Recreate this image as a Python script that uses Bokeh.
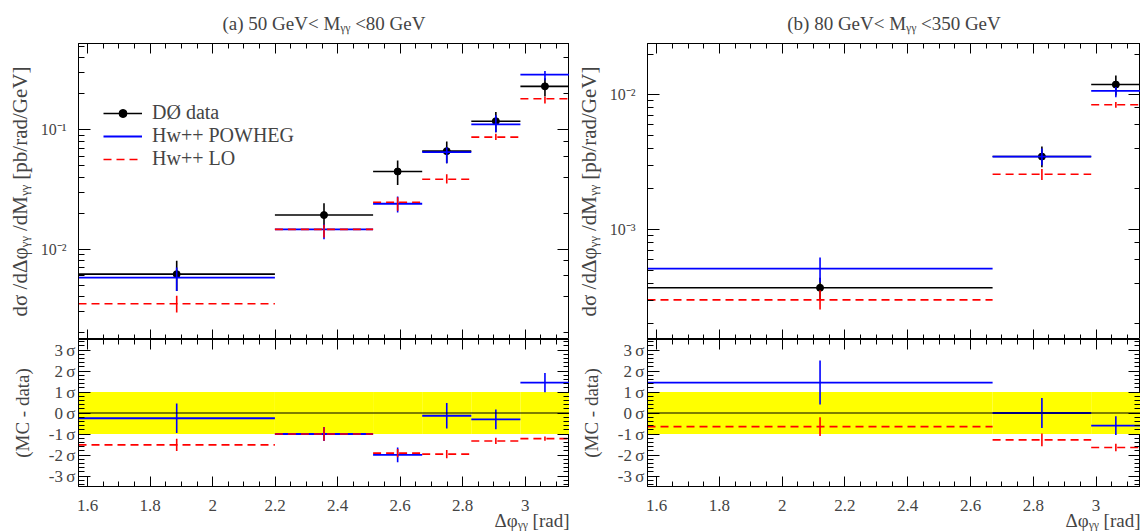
import numpy as np
from bokeh.plotting import figure
from bokeh.models import (Range1d, LinearAxis, LogAxis, SingleIntervalTicker, LogTicker, Title,
                          CustomJSTickFormatter, Legend, LegendItem, Span, ColumnDataSource)
from bokeh.layouts import gridplot
from bokeh.embed import file_html
from bokeh.resources import INLINE

PI = np.pi
FONT = "Liberation Serif"

# ---------------- data : panel (a) 50 < M < 80 GeV ----------------
title_a = "(a) 50 GeV< Mᵧᵧ <80 GeV"
edges_a = [0.5, 0.7, 0.8, 0.85, 0.9, 0.95, 1.0]          # bin edges in units of pi
data_a = [0.00617, 0.0193, 0.0447, 0.0662, 0.118, 0.231]
data_a_lo = [0.00447, 0.0152, 0.0345, 0.0525, 0.0955, 0.190]
data_a_hi = [0.00798, 0.0242, 0.0552, 0.0798, 0.141, 0.270]
pow_a = [0.00578, 0.01463, 0.0240, 0.0649, 0.111, 0.290]
pow_a_lo = [0.00447, 0.0121, 0.0203, 0.0525, 0.0955, 0.260]
pow_a_hi = [0.00701, 0.0162, 0.0276, 0.0715, 0.132, 0.311]
lo_a = [0.00349, 0.01463, 0.0247, 0.0385, 0.0868, 0.182]
lo_a_lo = [0.00294, 0.0125, 0.0210, 0.0354, 0.0819, 0.166]
lo_a_hi = [0.00406, 0.0160, 0.0272, 0.0424, 0.0925, 0.189]
dev_pow_a = [-0.25, -1.0, -1.99, -0.13, -0.30, 1.45]
dev_pow_a_err = [0.70, 0.33, 0.35, 0.61, 0.47, 0.46]
dev_lo_a = [-1.52, -1.0, -1.91, -1.96, -1.33, -1.22]
dev_lo_a_err = [0.29, 0.32, 0.20, 0.20, 0.15, 0.10]

# ---------------- data : panel (b) 80 < M < 350 GeV ----------------
title_b = "(b) 80 GeV< Mᵧᵧ <350 GeV"
edges_b = [0.5, 0.85, 0.95, 1.0]
data_b = [0.000370, 0.00348, 0.0119]
data_b_lo = [0.000300, 0.00290, 0.00989]
data_b_hi = [0.000440, 0.00413, 0.0139]
pow_b = [0.000513, 0.00348, 0.0107]
pow_b_lo = [0.000405, 0.00300, 0.0096]
pow_b_hi = [0.000621, 0.00400, 0.0114]
lo_b = [0.000301, 0.00257, 0.00843]
lo_b_lo = [0.000255, 0.00233, 0.00800]
lo_b_hi = [0.000355, 0.00281, 0.00882]
dev_pow_b = [1.45, 0.0, -0.6]
dev_pow_b_err = [1.05, 0.72, 0.45]
dev_lo_b = [-0.65, -1.28, -1.64]
dev_lo_b_err = [0.45, 0.30, 0.18]

ylabel_main = "dσ /dΔφᵧᵧ /dMᵧᵧ [pb/rad/GeV]"
ylabel_ratio = "(MC - data)"
xlabel = "Δφᵧᵧ [rad]"
legend_labels = ["DØ data", "Hw++ POWHEG", "Hw++ LO"]

BLUE = "#0000ff"
RED = "#ff0000"

LOG_FMT = CustomJSTickFormatter(code="""
const e = Math.round(Math.log10(tick));
const m = {"-":"⁻","0":"⁰","1":"¹","2":"²","3":"³","4":"⁴","5":"⁵","6":"⁶","7":"⁷","8":"⁸","9":"⁹"};
return "10" + String(e).split("").map(c => m[c]).join("");
""")
X_FMT = CustomJSTickFormatter(code="return (Math.round(tick*10)/10).toString();")
SIG_FMT = CustomJSTickFormatter(code="return Math.round(tick).toString() + '\u2009σ';")


def style_axis(ax, major_in, minor_in, labels=True, size="16px", standoff=6):
    ax.major_tick_in = major_in
    ax.major_tick_out = 0
    ax.minor_tick_in = minor_in
    ax.minor_tick_out = 0
    ax.axis_line_color = "black"
    ax.major_tick_line_color = "black"
    ax.minor_tick_line_color = "black"
    ax.major_label_text_font = FONT
    ax.axis_label_text_font = FONT
    ax.axis_label_text_font_style = "normal"
    if labels:
        ax.major_label_text_font_size = size
        ax.major_label_standoff = standoff
    else:
        ax.major_label_text_font_size = "1px"
        ax.major_label_text_color = None
        ax.major_label_standoff = 0


def xticker():
    return SingleIntervalTicker(interval=0.2, num_minor_ticks=4)


def cols(edges):
    e = np.array(edges) * PI
    lo, hi = e[:-1], e[1:]
    return dict(l=lo, r=hi, c=(lo + hi) / 2)


def make_main(edges, dat, dlo, dhi, pw, plo, phi, lo, llo, lhi, yr, title, width, mleft, mright, legend):
    p = figure(width=width, height=339, x_range=Range1d(PI / 2, PI), y_range=Range1d(*yr),
               y_axis_type="log", output_backend="svg", toolbar_location=None,
               min_border_left=mleft, min_border_right=mright, min_border_top=43, min_border_bottom=0,
               background_fill_color="white", border_fill_color="white", outline_line_color="black")
    p.grid.visible = False
    p.title.text = title
    p.title.align = "center"
    p.title.text_font = FONT
    p.title.text_font_size = "19px"
    p.title.text_font_style = "normal"
    p.title.standoff = 19

    src = ColumnDataSource(dict(**cols(edges), d=dat, dlo=dlo, dhi=dhi, p=pw, plo=plo, phi=phi,
                                o=lo, olo=llo, ohi=lhi))
    # data
    r_dh = p.segment("l", "d", "r", "d", source=src, line_color="black", line_width=1.6)
    p.segment("c", "dlo", "c", "dhi", source=src, line_color="black", line_width=1.6)
    r_dd = p.scatter("c", "d", source=src, size=7, color="black")
    # POWHEG
    r_ph = p.segment("l", "p", "r", "p", source=src, line_color=BLUE, line_width=1.8)
    p.segment("c", "plo", "c", "phi", source=src, line_color=BLUE, line_width=1.6)
    # LO
    r_oh = p.segment("l", "o", "r", "o", source=src, line_color=RED, line_width=1.6, line_dash="8 5")
    p.segment("c", "olo", "c", "ohi", source=src, line_color=RED, line_width=1.6)

    style_axis(p.yaxis[0], 12, 6, labels=True, size="16px", standoff=12)
    p.yaxis[0].formatter = LOG_FMT
    p.yaxis[0].axis_label = ylabel_main
    p.yaxis[0].axis_label_text_font_size = "21px"
    p.yaxis[0].axis_label_standoff = 6
    style_axis(p.xaxis[0], 10, 5, labels=False)
    p.xaxis[0].ticker = xticker()

    ra = LogAxis(ticker=LogTicker())
    style_axis(ra, 12, 6, labels=False)
    p.add_layout(ra, "right")
    ta = LinearAxis(ticker=xticker())
    style_axis(ta, 10, 5, labels=False)
    p.add_layout(ta, "above")

    if legend:
        lg = Legend(items=[LegendItem(label=legend_labels[0], renderers=[r_dh, r_dd]),
                           LegendItem(label=legend_labels[1], renderers=[r_ph]),
                           LegendItem(label=legend_labels[2], renderers=[r_oh])],
                    location=(25, 169), padding=0, margin=0, spacing=0,
                    border_line_color=None, background_fill_alpha=0,
                    label_text_font=FONT, label_text_font_size="20px",
                    glyph_width=39, glyph_height=20, label_height=20, label_standoff=10)
        p.add_layout(lg)
    return p


def make_ratio(edges, dpw, dpwe, dlo, dloe, width, mleft, mright):
    p = figure(width=width, height=192, x_range=Range1d(PI / 2, PI), y_range=Range1d(-3.5, 3.5),
               output_backend="svg", toolbar_location=None,
               min_border_left=mleft, min_border_right=mright, min_border_top=0, min_border_bottom=45,
               background_fill_color="white", border_fill_color="white", outline_line_color="black")
    p.grid.visible = False
    c = cols(edges)
    dpw = np.array(dpw); dpwe = np.array(dpwe); dlo = np.array(dlo); dloe = np.array(dloe)
    src = ColumnDataSource(dict(**c, p=dpw, plo=dpw - dpwe, phi=dpw + dpwe,
                                o=dlo, olo=dlo - dloe, ohi=dlo + dloe))
    p.quad(left="l", right="r", bottom=-1, top=1, source=src, fill_color="#ffff00", line_color=None)
    p.add_layout(Span(location=0, dimension="width", line_color="black", line_width=1.2))
    p.segment("l", "p", "r", "p", source=src, line_color=BLUE, line_width=1.8)
    p.segment("c", "plo", "c", "phi", source=src, line_color=BLUE, line_width=1.6)
    p.segment("l", "o", "r", "o", source=src, line_color=RED, line_width=1.6, line_dash="8 5")
    p.segment("c", "olo", "c", "ohi", source=src, line_color=RED, line_width=1.6)

    style_axis(p.yaxis[0], 12, 6, labels=True, size="17px", standoff=3)
    p.yaxis[0].ticker = SingleIntervalTicker(interval=1, num_minor_ticks=5)
    p.yaxis[0].formatter = SIG_FMT
    p.yaxis[0].axis_label = ylabel_ratio
    p.yaxis[0].axis_label_text_font_size = "19px"
    p.yaxis[0].axis_label_standoff = 13
    style_axis(p.xaxis[0], 10, 5, labels=True, size="17px", standoff=13)
    p.xaxis[0].ticker = xticker()
    p.xaxis[0].formatter = X_FMT

    ra = LinearAxis(ticker=SingleIntervalTicker(interval=1, num_minor_ticks=5))
    style_axis(ra, 12, 6, labels=False)
    p.add_layout(ra, "right")
    ta = LinearAxis(ticker=xticker())
    style_axis(ta, 10, 5, labels=False)
    p.add_layout(ta, "above")

    xt = Title(text=xlabel, align="right", text_font=FONT, text_font_size="19px",
               text_font_style="normal", standoff=-12)
    p.add_layout(xt, "below")
    return p


m_a = make_main(edges_a, data_a, data_a_lo, data_a_hi, pow_a, pow_a_lo, pow_a_hi,
                lo_a, lo_a_lo, lo_a_hi, (0.00175, 0.528), title_a, 569, 78, 0, True)
m_b = make_main(edges_b, data_b, data_b_lo, data_b_hi, pow_b, pow_b_lo, pow_b_hi,
                lo_b, lo_b_lo, lo_b_hi, (0.000153, 0.024), title_b, 571, 78, 0, False)
r_a = make_ratio(edges_a, dev_pow_a, dev_pow_a_err, dev_lo_a, dev_lo_a_err, 569, 78, 0)
r_b = make_ratio(edges_b, dev_pow_b, dev_pow_b_err, dev_lo_b, dev_lo_b_err, 571, 78, 0)

grid = gridplot([[m_a, m_b], [r_a, r_b]], toolbar_location=None)

open("out.html", "w").write(file_html(grid, INLINE))
